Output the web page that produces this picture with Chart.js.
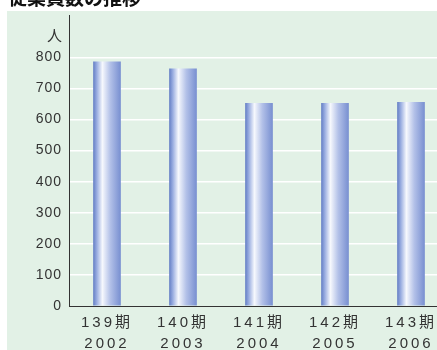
<!DOCTYPE html>
<html>
<head>
<meta charset="utf-8">
<script src="https://cdn.jsdelivr.net/npm/chart.js@4/dist/chart.umd.min.js"></script>
<style>
  html, body { margin: 0; padding: 0; background: #fff; overflow: hidden; }
  #wrap { width: 449px; height: 350px; position: relative; }
</style>
</head>
<body>
<div id="wrap"><canvas id="employees"></canvas></div>
<script>
// headcount per fiscal period
const periods = ['139期', '140期', '141期', '142期', '143期']
const years = ['2002', '2003', '2004', '2005', '2006']
const employees = [786, 763, 652, 652, 655]
const yTicks = [0, 100, 200, 300, 400, 500, 600, 700, 800]

const chartTitle = '従業員数の推移'
const unitLabel = '人'

const FONT = '"Liberation Sans", "Noto Sans CJK JP", Arial, sans-serif'
const TEXT = '#333333'
const PANEL = '#e2f1e6'
const BAR_W = 27

// green panel behind the plot, plus the heading and unit
const panelPlugin = {
    id: 'panel',
    beforeDraw(chart){
        const ctx = chart.ctx
        ctx.save()
        ctx.fillStyle = PANEL
        ctx.fillRect(7, 11, chart.width - 7, chart.height - 11)
        ctx.fillStyle = '#111'
        ctx.font = 'bold 19px ' + FONT
        ctx.textBaseline = 'alphabetic'
        ctx.textAlign = 'left'
        ctx.fillText(chartTitle, 8, 5)
        ctx.fillStyle = TEXT
        ctx.font = '15px ' + FONT
        ctx.textAlign = 'right'
        ctx.textBaseline = 'middle'
        ctx.fillText(unitLabel, 62, 37)
        ctx.restore()
    }
}

// spread out the tick digits a little
const spacing = {x: '3px', y: '1px'}
const letterSpacingPlugin = {
    id: 'letterSpacing',
    beforeDraw(chart){
        Object.entries(spacing).forEach(([id, sp])=>{
            const scale = chart.scales[id]
            if (!scale || scale._spaced) return
            const orig = scale.drawLabels.bind(scale)
            scale.drawLabels = (area)=>{
                const ctx = scale.ctx
                const prev = ctx.letterSpacing
                ctx.letterSpacing = sp
                orig(area)
                ctx.letterSpacing = prev
            }
            scale._spaced = true
        })
    }
}

// cylinder-like shading across each bar
function barShade(context){
    const chart = context.chart
    const xScale = chart.scales.x
    if (!chart.chartArea || !xScale) return '#8fa3dc'
    const cx = xScale.getPixelForValue(context.dataIndex)
    const left = cx - BAR_W / 2
    const g = chart.ctx.createLinearGradient(left, 0, left + BAR_W, 0)
    g.addColorStop(0, '#6781c7')
    g.addColorStop(0.12, '#98ace0')
    g.addColorStop(0.33, '#f6f8fd')
    g.addColorStop(0.62, '#b3c1e8')
    g.addColorStop(1, '#7990d1')
    return g
}

const config = {
    type: 'bar',
    data: {
        labels: periods.map((p, i)=>[p, years[i]]),
        datasets: [{
            data: employees,
            backgroundColor: barShade,
            borderWidth: 0,
            barThickness: BAR_W
        }]
    },
    options: {
        responsive: true,
        maintainAspectRatio: false,
        animation: false,
        layout: {
            padding: {top: 12, left: 0, right: 0, bottom: 0}
        },
        plugins: {
            legend: {display: false},
            tooltip: {enabled: false}
        },
        scales: {
            x: {
                offset: true,
                afterFit(scale){ scale.height = 44 },
                grid: {display: false, drawTicks: false},
                border: {display: true, color: '#333', width: 1},
                ticks: {
                    color: TEXT,
                    padding: 6,
                    font: {family: FONT, size: 15, lineHeight: 1.4},
                    maxRotation: 0
                }
            },
            y: {
                min: 0,
                max: 935,
                afterFit(scale){ scale.width = 69 },
                afterBuildTicks(scale){
                    scale.ticks = yTicks.map(v=>({value: v}))
                },
                grid: {
                    color: ctx => ctx.tick && ctx.tick.value === 0 ? 'rgba(0,0,0,0)' : '#ffffff',
                    lineWidth: 1.6,
                    drawTicks: false
                },
                border: {display: true, color: '#333', width: 1},
                ticks: {
                    color: TEXT,
                    padding: 7,
                    font: {family: FONT, size: 14}
                }
            }
        }
    },
    plugins: [panelPlugin, letterSpacingPlugin]
}

const chart = new Chart(document.getElementById('employees'), config)
</script>
</body>
</html>
